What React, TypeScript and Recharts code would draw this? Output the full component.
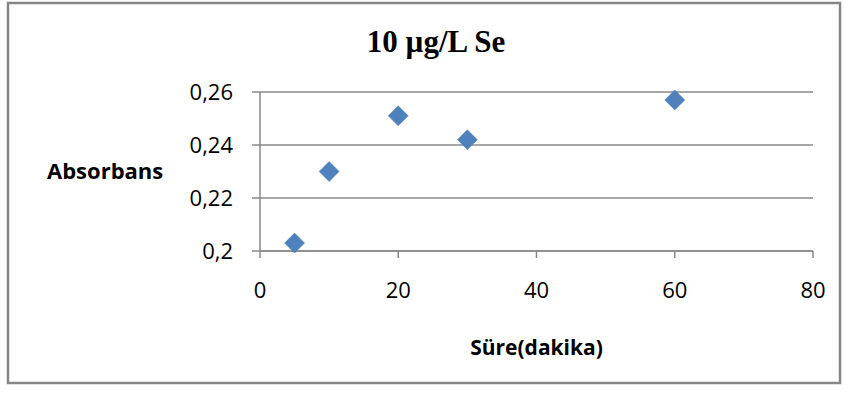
import React from 'react';
import { ScatterChart, Scatter, XAxis, YAxis, CartesianGrid } from 'recharts';

const times = [5, 10, 20, 30, 60];
const absorbance = [0.203, 0.23, 0.251, 0.242, 0.257];
const xTicks = [0, 20, 40, 60, 80];
const yTicks = [0.2, 0.22, 0.24, 0.26];
const title = '10 µg/L Se';
const xLabel = 'Süre(dakika)';
const yLabel = 'Absorbans';

const data = times.map((t, i) => ({ x: t, y: absorbance[i] }));

const W = 847;
const H = 396;
const SANS = '"Open Sans", sans-serif';

const Diamond = (props: any) => {
  const { cx, cy } = props;
  if (cx == null || cy == null) return null;
  const r = 10;
  return (
    <polygon
      points={`${cx},${cy - r} ${cx + r},${cy} ${cx},${cy + r} ${cx - r},${cy}`}
      fill="#4F81BD"
      stroke="#4A7EBB"
      strokeWidth={0.5}
    />
  );
};

const fmtY = (v: number) => String(v).replace('.', ',');

export default function App() {
  return (
    <div style={{ position: 'absolute', left: 0, top: 0, width: W, height: H, background: '#fff' }}>
      <svg
        width={W}
        height={H}
        style={{ position: 'absolute', left: 0, top: 0, pointerEvents: 'none' }}
      >
        <rect x={8} y={3} width={832} height={380} fill="none" stroke="#868686" strokeWidth={2.5} />
        <text
          x={436}
          y={52}
          textAnchor="middle"
          fontFamily='"Liberation Serif", "Times New Roman", serif'
          fontWeight="bold"
          fontSize={31}
          fill="#000"
        >
          {title}
        </text>
      </svg>
      <div style={{ position: 'absolute', left: 0, top: 0 }}>
        <ScatterChart
          width={W}
          height={H}
          margin={{ top: 92, right: 34, bottom: 0, left: 0 }}
        >
          <CartesianGrid vertical={false} stroke="#888" strokeWidth={1.5} />
          <XAxis
            type="number"
            dataKey="x"
            domain={[0, 80]}
            ticks={xTicks}
            interval={0}
            height={145}
            tickSize={7}
            tickMargin={24}
            axisLine={{ stroke: '#888', strokeWidth: 1.5 }}
            tickLine={{ stroke: '#888', strokeWidth: 1.5 }}
            tick={{ fill: '#000', fontFamily: SANS, fontSize: 22 }}
            label={{
              value: xLabel,
              position: 'insideBottom',
              offset: 41,
              fill: '#000',
              fontFamily: SANS,
              fontSize: 21,
              fontWeight: 'bold',
            }}
          />
          <YAxis
            type="number"
            dataKey="y"
            domain={[0.2, 0.26]}
            ticks={yTicks}
            interval={0}
            width={260}
            tickSize={8}
            tickMargin={19}
            tickFormatter={fmtY}
            axisLine={{ stroke: '#888', strokeWidth: 1.5 }}
            tickLine={{ stroke: '#888', strokeWidth: 1.5 }}
            tick={{ fill: '#000', fontFamily: SANS, fontSize: 22 }}
            label={{
              value: yLabel,
              position: 'insideLeft',
              offset: 47,
              fill: '#000',
              fontFamily: SANS,
              fontSize: 22,
              fontWeight: 'bold',
            }}
          />
          <Scatter data={data} shape={Diamond} isAnimationActive={false} />
        </ScatterChart>
      </div>
    </div>
  );
}
